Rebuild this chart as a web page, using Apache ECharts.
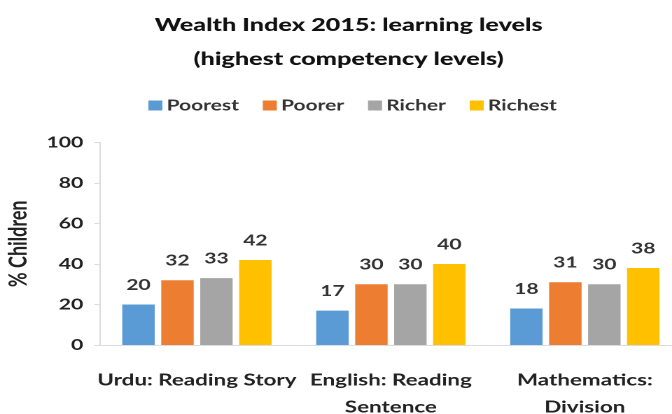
<!DOCTYPE html>
<html><head><meta charset="utf-8">
<script src="https://cdn.jsdelivr.net/npm/echarts@6/dist/echarts.min.js"></script>
<style>
html,body{margin:0;padding:0;background:#fff;overflow:hidden;width:672px;height:414px}
#c{width:480px;height:414px;transform:scaleX(1.4);transform-origin:0 0}
</style>
</head><body><div id="c"></div>
<script>
var categories = ["Urdu: Reading Story", "English: Reading\nSentence", "Mathematics:\nDivision"];
var seriesNames = ["Poorest", "Poorer", "Richer", "Richest"];
var poorest = [20, 17, 18];
var poorer = [32, 30, 31];
var richer = [33, 30, 30];
var richest = [42, 40, 38];
var yTicks = [0, 20, 40, 60, 80, 100];
var colors = ["#5B9BD5", "#ED7D31", "#A5A5A5", "#FFC000"];
var values = [poorest, poorer, richer, richest];
var font = "Lato";
var chart = echarts.init(document.getElementById('c'), null, {devicePixelRatio: 2});
chart.setOption({
  animation: false,
  textStyle: {fontFamily: font},
  title: {
    text: "Wealth Index 2015: learning levels\n(highest competency levels)",
    left: 244, top: 3, textAlign: 'center',
    textStyle: {fontFamily: font, fontSize: 18, fontWeight: 900, color: '#111', lineHeight: 34}
  },
  legend: {
    data: seriesNames, top: 93, left: 101, itemWidth: 10, itemHeight: 10, itemGap: 17,
    icon: 'rect',
    textStyle: {fontFamily: font, fontSize: 15, fontWeight: 'bold', color: '#333', padding: [0,0,0,-2]}
  },
  grid: {left: 71.4, right: -7, top: 142.5, bottom: 69, containLabel: false, outerBoundsMode: 'none'},
  xAxis: {
    type: 'category', data: categories,
    axisLine: {lineStyle: {color: '#d9dde3', width: 1}},
    axisTick: {show: false},
    axisLabel: {fontFamily: font, fontSize: 16, color: '#222', fontWeight: 'bold', margin: 22, lineHeight: 27, interval: 0}
  },
  yAxis: {
    type: 'value', min: yTicks[0], max: yTicks[yTicks.length-1], interval: 20,
    name: '% Children', nameLocation: 'middle', nameGap: 41, nameRotate: 90,
    nameTextStyle: {fontFamily: font, fontSize: 18, color: '#222', fontWeight: 'bold'},
    axisLine: {show: true, lineStyle: {color: '#d9dde3'}},
    axisTick: {show: true, length: 4, inside: false, lineStyle: {color: '#d9dde3'}},
    splitLine: {show: false},
    axisLabel: {fontFamily: font, fontSize: 15, color: '#222', fontWeight: 'bold', margin: 12}
  },
  series: seriesNames.map(function(n, i){
    return {
      name: n, type: 'bar', data: values[i], barGap: '20%', barCategoryGap: '23%',
      itemStyle: {color: colors[i]},
      label: {show: true, position: 'top', distance: 12, fontFamily: font, fontSize: 15, fontWeight: 'bold', color: '#333'}
    };
  })
});
</script></body></html>
